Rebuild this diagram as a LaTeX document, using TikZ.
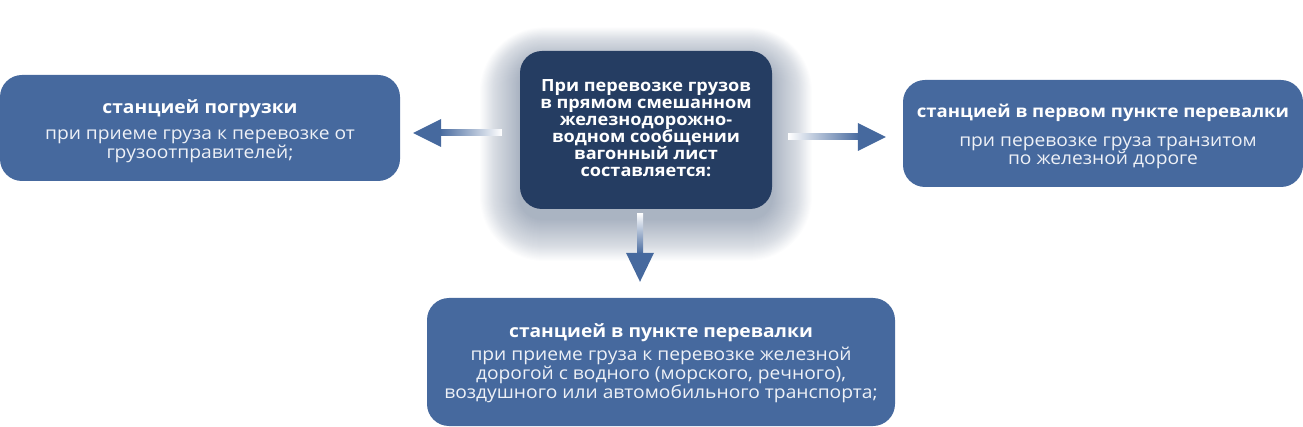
\documentclass[tikz,border=0pt]{standalone}
\usepackage{fontspec}
\setmainfont{Open Sans}[FakeStretch=1.08]
\usetikzlibrary{calc}
\definecolor{boxblue}{HTML}{46699E}
\definecolor{navy}{HTML}{253D62}
\definecolor{bodytxt}{HTML}{EEF1F7}
\tikzset{
  box/.style={fill=boxblue, rounded corners=22pt, inner sep=0pt},
  txt/.style={inner sep=0pt, text=bodytxt, align=center, font=\fontsize{17.8}{16.8}\selectfont},
  arrowhead/.style={fill=boxblue},
}
\newcommand{\ttl}[1]{{\color{white}\bfseries #1}}
\begin{document}
\begin{tikzpicture}[x=1pt,y=-1pt]
\useasboundingbox (0,0) rectangle (1303,427);
% shadow of centre box
\foreach \i in {1,...,42}{
  \pgfmathsetmacro{\r}{22+\i}
  \fill[navy, opacity=0.010, rounded corners=\r pt] (520-\i*0.95,51-\i*0.8+10) rectangle (772+\i*0.95,209+\i*1.0+10);
}
% boxes
\node[box, minimum width=252pt, minimum height=158pt, fill=navy] (src) at (646,130) {};
\node[txt, text=white, font=\bfseries\fontsize{16.8}{17}\selectfont] (srctxt) at ($(src.center)+(0,-2)$)
  {При перевозке грузов\\в прямом смешанном\\железнодорожно-\\водном сообщении\\вагонный лист\\составляется:};
\node[box, minimum width=400pt, minimum height=106pt] (load) at (200,128) {};
\node[txt] (loadtxt) at ($(load.center)+(0,3)$)
  {\ttl{станцией погрузки}\\[9pt]при приеме груза к перевозке от\\грузоотправителей;};
\node[box, minimum width=400pt, minimum height=107pt] (first) at (1103,133.5) {};
\node[txt, font=\fontsize{17.8}{15.8}\selectfont] (firsttxt) at ($(first.center)+(0,3)$)
  {\ttl{\fontsize{17.2}{17}\selectfont станцией в первом пункте перевалки}\\[13pt]\hspace*{10pt}при перевозке груза транзитом\\по железной дороге};
\node[box, minimum width=468pt, minimum height=128pt] (trans) at (661,362) {};
\node[txt] (transtxt) at ($(trans.center)+(0,1)$)
  {\ttl{станцией в пункте перевалки}\\[5pt]при приеме груза к перевозке железной\\дорогой с водного (морского, речного),\\воздушного или автомобильного транспорта;};
% arrows
\coordinate (lt) at ($(load.east)+(13,5)$);
\coordinate (rt) at ($(first.west)+(-17,3.5)$);
\coordinate (dt) at ($(trans.north)+(-21,-16)$);
\shade[left color=boxblue, right color=white] ($(lt)+(26,-3)$) rectangle ($(src.west)+(-18,6)$);
\fill[arrowhead] (lt) -- ++(28,-14) -- ++(0,28) -- cycle;
\shade[left color=white, right color=boxblue] ($(src.east)+(16,4)$) rectangle ($(rt)+(-26,3)$);
\fill[arrowhead] (rt) -- ++(-28,-14) -- ++(0,28) -- cycle;
\shade[top color=white, bottom color=boxblue] ($(src.south)+(-9,4)$) rectangle ($(dt)+(3,-28)$);
\fill[arrowhead] (dt) -- ++(-14,-29) -- ++(28,0) -- cycle;
\end{tikzpicture}
\end{document}
